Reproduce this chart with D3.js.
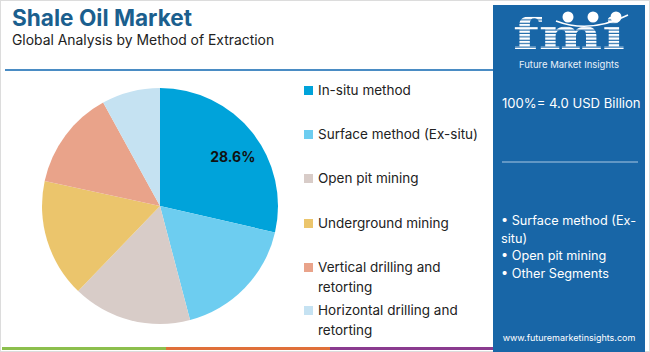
<!DOCTYPE html>
<html>
<head>
<meta charset="utf-8">
<script src="https://cdn.jsdelivr.net/npm/d3@7"></script>
<style>
  body { margin: 0; background: #fff; }
  svg { display: block; font-family: Inter, "Open Sans", sans-serif; }
</style>
</head>
<body>
<div id="container"></div>
<script>
let w = 650;
let h = 352;

// data (share of 4.0 USD Billion)
let segments = ["In-situ method", "Surface method (Ex-situ)", "Open pit mining", "Underground mining", "Vertical drilling and retorting", "Horizontal drilling and retorting"];
let shares = [28.6, 17.3, 16.3, 16.2, 13.6, 8.0];
let colors = ["#00a3da", "#6dcdf0", "#d8ccc8", "#ebc56c", "#e9a38a", "#c5e2f2"];
let legendLines = [["In-situ method"], ["Surface method (Ex-situ)"], ["Open pit mining"], ["Underground mining"], ["Vertical drilling and", "retorting"], ["Horizontal drilling and", "retorting"]];
let bulletLines = ["• Surface method (Ex-", "situ)", "• Open pit mining", "• Other Segments"];

let viz = d3.select("#container").append("svg")
    .attr("width", w)
    .attr("height", h)
;

// frame
viz.append("rect")
    .attr("x", 0.5).attr("y", 0.5)
    .attr("width", w - 1).attr("height", h - 1)
    .attr("fill", "white")
    .attr("stroke", "#dcdcdc")
;

// title
viz.append("text")
    .text("Shale Oil Market")
    .attr("x", 12).attr("y", 26)
    .attr("font-size", 22.6)
    .attr("font-weight", 700)
    .attr("fill", "#1b5f8e")
;
viz.append("text")
    .text("Global Analysis by Method of Extraction")
    .attr("x", 12).attr("y", 45)
    .attr("font-size", 13.9)
    .attr("fill", "#222")
;
viz.append("line")
    .attr("x1", 5).attr("x2", 493)
    .attr("y1", 70).attr("y2", 70)
    .attr("stroke", "#4a8cc4")
    .attr("stroke-width", 2)
;

// bottom colour strip
let stripColors = ["#8cbf4d", "#e0703a", "#8a3b8f"];
let stripScale = d3.scaleBand().domain(d3.range(3)).range([2, 494]);
viz.selectAll(".strip").data(stripColors).enter()
  .append("rect")
    .attr("class", "strip")
    .attr("x", (d, i) => stripScale(i))
    .attr("y", 347)
    .attr("width", stripScale.bandwidth())
    .attr("height", 3)
    .attr("fill", d => d)
;

// pie
let cx = 160, cy = 206, r = 118;
let pie = d3.pie().sort(null).value(d => d);
let arc = d3.arc().innerRadius(0).outerRadius(r);
let arcs = pie(shares);

let pieGroup = viz.append("g").attr("transform", `translate(${cx},${cy})`);
pieGroup.selectAll("path").data(arcs).enter()
  .append("path")
    .attr("d", arc)
    .attr("fill", (d, i) => colors[i])
;
let labelArc = d3.arc().innerRadius(r * 0.68).outerRadius(r * 0.68);
pieGroup.append("text")
    .text(shares[0].toFixed(1) + "%")
    .attr("transform", () => {
      let c = labelArc.centroid(arcs[0]);
      return `translate(${c[0] + 10},${c[1] + 1})`;
    })
    .attr("text-anchor", "middle")
    .attr("dy", "0.35em")
    .attr("font-size", 14)
    .attr("font-weight", 700)
    .attr("fill", "#111")
;

// legend
let legendY = [95, 139, 183, 228, 272, 315];
let legend = viz.selectAll(".legend").data(segments).enter()
  .append("g")
    .attr("class", "legend")
    .attr("transform", (d, i) => `translate(304,${legendY[i]})`)
;
legend.append("rect")
    .attr("x", 0).attr("y", -9)
    .attr("width", 9).attr("height", 9)
    .attr("fill", (d, i) => colors[i])
;
legend.append("text")
    .attr("x", 14)
    .attr("font-size", 13.5)
    .attr("fill", "#222")
    .selectAll("tspan").data((d, i) => legendLines[i]).enter()
    .append("tspan")
      .attr("x", 14)
      .attr("dy", (d, j) => j == 0 ? 0 : 19.5)
      .text(d => d)
;

// right panel
let panel = viz.append("g");
panel.append("rect")
    .attr("x", 493).attr("y", 5)
    .attr("width", 152).attr("height", 347)
    .attr("fill", "#1866a7")
;

// logo: striped "fmi"
let defs = viz.append("defs");
let pat = defs.append("pattern")
    .attr("id", "stripes")
    .attr("patternUnits", "userSpaceOnUse")
    .attr("width", 4).attr("height", 3.4);
pat.append("rect").attr("width", 4).attr("height", 2.3).attr("fill", "white");
panel.append("text")
    .text("fmi")
    .attr("x", 569).attr("y", 49)
    .attr("text-anchor", "middle")
    .attr("font-family", "DejaVu Serif, serif")
    .attr("font-weight", 700)
    .attr("font-size", 42)
    .attr("textLength", 112)
    .attr("lengthAdjust", "spacingAndGlyphs")
    .attr("fill", "url(#stripes)")
;
// little globe dots above the logo
let dotX = [568, 593, 616];
panel.selectAll(".dot").data(dotX).enter()
  .append("circle")
    .attr("cx", d => d).attr("cy", 17)
    .attr("r", 5.5)
    .attr("fill", "white")
;
panel.append("path")
    .attr("d", "M556,21 Q590,34 628,15")
    .attr("fill", "none")
    .attr("stroke", "white")
    .attr("stroke-width", 1.5)
;
panel.append("text")
    .text("Future Market Insights")
    .attr("x", 569).attr("y", 68)
    .attr("text-anchor", "middle")
    .attr("font-size", 9.5)
    .attr("fill", "#e8f1fa")
;

panel.append("text")
    .text("100%= 4.0 USD Billion")
    .attr("x", 502).attr("y", 108)
    .attr("font-size", 13.1)
    .attr("fill", "white")
;
panel.append("line")
    .attr("x1", 502).attr("x2", 638)
    .attr("y1", 162).attr("y2", 162)
    .attr("stroke", "#a9c8e4")
    .attr("stroke-width", 1.2)
;
panel.append("text")
    .attr("font-size", 12.7)
    .attr("fill", "white")
    .selectAll("tspan").data(bulletLines).enter()
    .append("tspan")
      .attr("x", 501)
      .attr("y", (d, i) => 225 + i * 17.5)
      .text(d => d)
;
panel.append("text")
    .text("www.futuremarketinsights.com")
    .attr("x", 569).attr("y", 341)
    .attr("text-anchor", "middle")
    .attr("font-size", 9)
    .attr("fill", "white")
;
</script>
</body>
</html>
